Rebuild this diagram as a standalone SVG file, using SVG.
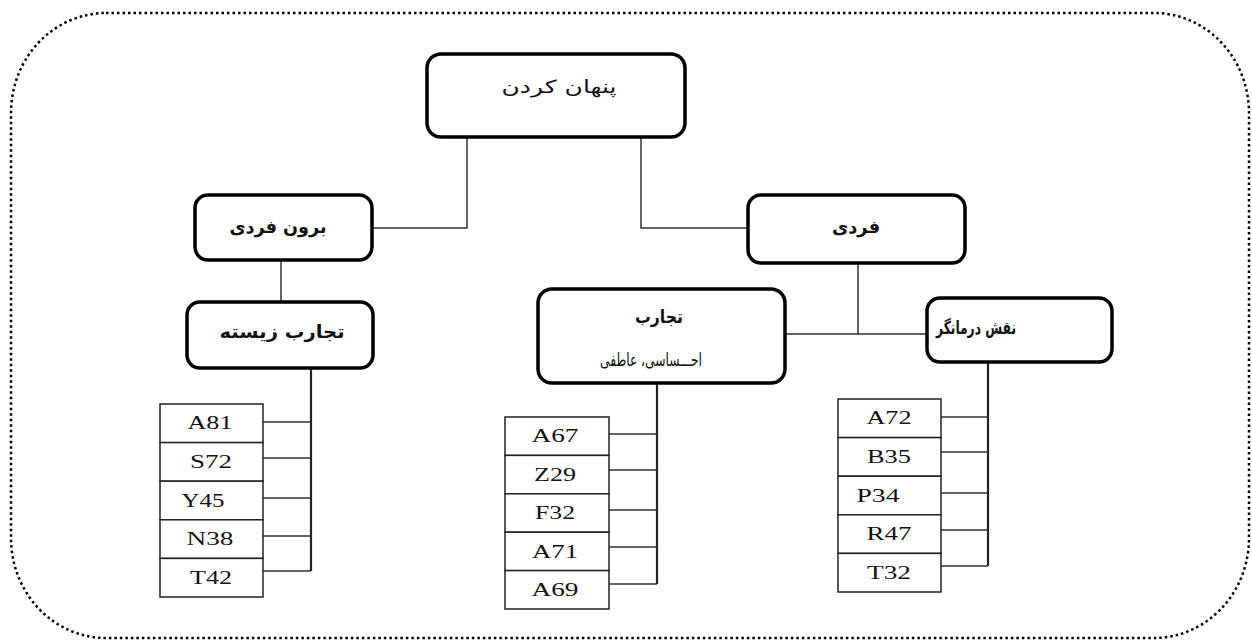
<svg xmlns="http://www.w3.org/2000/svg" width="1252" height="640" viewBox="0 0 1252 640">
<style>
.node{fill:#fff;stroke:#000;stroke-width:3.5}
.cell{fill:#fff;stroke:#222;stroke-width:1.5}
.con{fill:none;stroke:#333;stroke-width:1.5}
.vert{fill:none;stroke:#222;stroke-width:2.2}
.fa{font-family:"DejaVu Sans",sans-serif;font-size:18px;text-anchor:middle;fill:#111}
.b{font-weight:bold}
.code{font-family:"Liberation Serif",serif;font-size:19px;text-anchor:middle;fill:#111}
</style>
<rect x="11" y="13" width="1238" height="625" rx="95" ry="100" fill="none" stroke="#000" stroke-width="2.5" stroke-dasharray="2.5 3"/>
<g id="connectors">
<path class="con" d="M467 137V228H372"/>
<path class="con" d="M641 137V228H748"/>
<path class="con" d="M281 260V302"/>
<path class="con" d="M858 263V334M785 334H927"/>
<path class="vert" d="M311 368V571"/>
<path class="con" d="M263 422H311M263 458H311M263 498H311M263 536H311M263 571H311"/>
<path class="vert" d="M657 383V584"/>
<path class="con" d="M609 434H657M609 470H657M609 510H657M609 547H657M609 584H657"/>
<path class="vert" d="M988 362V566"/>
<path class="con" d="M941 417H988M941 452H988M941 493H988M941 530H988M941 566H988"/>
</g>
<g id="n-root"><rect class="node" x="427" y="54" width="258" height="83" rx="14"/><text class="fa" x="559" y="93" font-size="19" textLength="115" lengthAdjust="spacingAndGlyphs">پنهان کردن</text></g>
<g id="n-extra"><rect class="node" x="195" y="195" width="177" height="65" rx="13"/><text class="fa b" x="278" y="233" textLength="97" lengthAdjust="spacingAndGlyphs">برون فردی</text></g>
<g id="n-lived"><rect class="node" x="187" y="302" width="186" height="66" rx="13"/><text class="fa b" x="282" y="338" textLength="125" lengthAdjust="spacingAndGlyphs">تجارب زیسته</text></g>
<g id="n-indiv"><rect class="node" x="748" y="195" width="217" height="68" rx="13"/><text class="fa b" x="856" y="233" textLength="48" lengthAdjust="spacingAndGlyphs">فردی</text></g>
<g id="n-emo"><rect class="node" x="538" y="289" width="247" height="94" rx="14"/><text class="fa b" x="659" y="323" textLength="48" lengthAdjust="spacingAndGlyphs">تجارب</text><text class="fa" x="651" y="366" font-size="15" textLength="102" lengthAdjust="spacingAndGlyphs">احـــساسی، عاطفی</text></g>
<g id="n-ther"><rect class="node" x="927" y="298" width="185" height="64" rx="13"/><text class="fa b" x="976" y="334" font-size="14" textLength="80" lengthAdjust="spacingAndGlyphs">نقش درمانگر</text></g>
<g id="t-lived">
<rect class="cell" x="160" y="404" width="103" height="38.6"/><text class="code" x="210" y="429" textLength="45" lengthAdjust="spacingAndGlyphs">A81</text>
<rect class="cell" x="160" y="442.6" width="103" height="38.6"/><text class="code" x="211" y="468" textLength="42" lengthAdjust="spacingAndGlyphs">S72</text>
<rect class="cell" x="160" y="481.2" width="103" height="38.6"/><text class="code" x="203" y="507" textLength="43" lengthAdjust="spacingAndGlyphs">Y45</text>
<rect class="cell" x="160" y="519.8" width="103" height="38.6"/><text class="code" x="210" y="545" textLength="47" lengthAdjust="spacingAndGlyphs">N38</text>
<rect class="cell" x="160" y="558.4" width="103" height="38.6"/><text class="code" x="211" y="584" textLength="42" lengthAdjust="spacingAndGlyphs">T42</text>
</g>
<g id="t-emo">
<rect class="cell" x="505" y="417" width="104" height="38.4"/><text class="code" x="555" y="442" textLength="47" lengthAdjust="spacingAndGlyphs">A67</text>
<rect class="cell" x="505" y="455.4" width="104" height="38.4"/><text class="code" x="555" y="481" textLength="42" lengthAdjust="spacingAndGlyphs">Z29</text>
<rect class="cell" x="505" y="493.8" width="104" height="38.4"/><text class="code" x="555" y="519" textLength="40" lengthAdjust="spacingAndGlyphs">F32</text>
<rect class="cell" x="505" y="532.2" width="104" height="38.4"/><text class="code" x="555" y="558" textLength="46" lengthAdjust="spacingAndGlyphs">A71</text>
<rect class="cell" x="505" y="570.6" width="104" height="38.4"/><text class="code" x="555" y="596" textLength="47" lengthAdjust="spacingAndGlyphs">A69</text>
</g>
<g id="t-ther">
<rect class="cell" x="838" y="399" width="103" height="38.6"/><text class="code" x="889" y="424" textLength="45" lengthAdjust="spacingAndGlyphs">A72</text>
<rect class="cell" x="838" y="437.6" width="103" height="38.6"/><text class="code" x="889" y="463" textLength="44" lengthAdjust="spacingAndGlyphs">B35</text>
<rect class="cell" x="838" y="476.2" width="103" height="38.6"/><text class="code" x="878" y="502" textLength="43" lengthAdjust="spacingAndGlyphs">P34</text>
<rect class="cell" x="838" y="514.8" width="103" height="38.6"/><text class="code" x="889" y="540" textLength="45" lengthAdjust="spacingAndGlyphs">R47</text>
<rect class="cell" x="838" y="553.4" width="103" height="38.6"/><text class="code" x="889" y="579" textLength="44" lengthAdjust="spacingAndGlyphs">T32</text>
</g>
</svg>
